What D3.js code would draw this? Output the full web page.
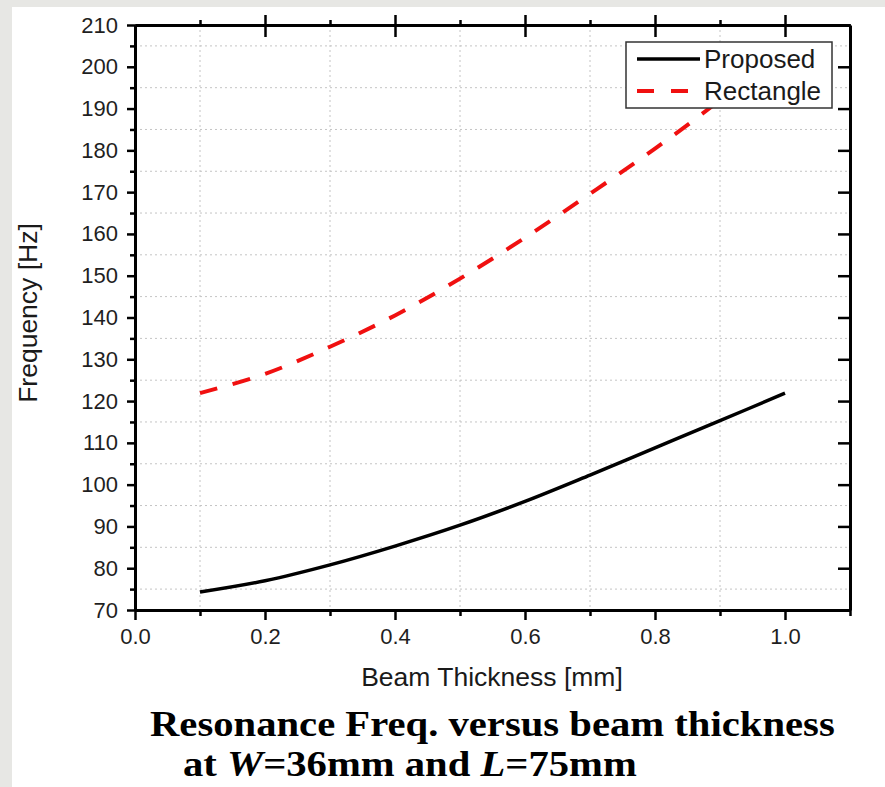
<!DOCTYPE html>
<html>
<head>
<meta charset="utf-8">
<script src="https://cdn.jsdelivr.net/npm/d3@7"></script>
<style>
  html, body { margin: 0; padding: 0; background: #e7e7e4; }
  svg { display: block; }
</style>
</head>
<body>
<div id="chart"></div>
<script>
// Data
var thickness = [0.1, 0.2, 0.3, 0.4, 0.5, 0.6, 0.7, 0.8, 0.9, 1.0];
var proposed = [74.3, 77.0, 80.8, 85.3, 90.3, 96.0, 102.3, 108.8, 115.3, 121.9];
var rectangle = [121.9, 126.5, 133.0, 140.5, 149.3, 159.1, 169.6, 180.4, 192.0, 204.5];
var seriesNames = ["Proposed", "Rectangle"];
var xMajor = [0, 0.2, 0.4, 0.6, 0.8, 1.0];
var xMinor = [0.1, 0.3, 0.5, 0.7, 0.9, 1.1];
var yMajor = [70, 80, 90, 100, 110, 120, 130, 140, 150, 160, 170, 180, 190, 200, 210];
var yMinor = [75, 85, 95, 105, 115, 125, 135, 145, 155, 165, 175, 185, 195, 205];

var width = 885, height = 787;
var plot = { left: 135, right: 850, top: 25, bottom: 610 };

var svg = d3.select("#chart").append("svg")
    .attr("width", width)
    .attr("height", height);

// page background, white sheet
svg.append("rect").attr("width", width).attr("height", height).attr("fill", "#e7e7e4");
svg.append("rect").attr("x", 12).attr("y", 7).attr("width", width - 12).attr("height", height - 7).attr("fill", "#fff");

var x = d3.scaleLinear().domain([0, 1.1]).range([plot.left, plot.right]);
var y = d3.scaleLinear().domain([70, 210]).range([plot.bottom, plot.top]);

// dotted grid on the minor positions
var grid = svg.append("g").attr("stroke", "#c4c4c4").attr("stroke-width", 1).attr("stroke-dasharray", "2,3");
grid.selectAll("line.v").data(xMinor.filter(d => d < 1.1)).enter().append("line")
    .attr("x1", d => x(d)).attr("x2", d => x(d))
    .attr("y1", plot.top).attr("y2", plot.bottom);
grid.selectAll("line.h").data(yMinor).enter().append("line")
    .attr("x1", plot.left).attr("x2", plot.right)
    .attr("y1", d => y(d)).attr("y2", d => y(d));

// lines
var line = d3.line().x(d => x(d[0])).y(d => y(d[1])).curve(d3.curveCatmullRom.alpha(0.5));

svg.append("path")
    .datum(thickness.map((t, i) => [t, rectangle[i]]))
    .attr("d", line)
    .attr("fill", "none")
    .attr("stroke", "#f01010")
    .attr("stroke-width", 4)
    .attr("stroke-dasharray", "18,16");

svg.append("path")
    .datum(thickness.map((t, i) => [t, proposed[i]]))
    .attr("d", line)
    .attr("fill", "none")
    .attr("stroke", "#000")
    .attr("stroke-width", 3.5);

// axes
function styleAxis(g) {
    g.select(".domain").attr("stroke", "#000").attr("stroke-width", 3);
    g.selectAll(".tick line").attr("stroke", "#000").attr("stroke-width", 2.5);
    g.selectAll(".tick text")
        .attr("fill", "#1f1f1f")
        .attr("font-family", "'Liberation Sans', Arial, sans-serif")
        .attr("font-size", "22px");
}

// bottom
svg.append("g")
    .attr("transform", `translate(0, ${plot.bottom})`)
    .call(d3.axisBottom(x).tickValues(xMinor).tickSize(6).tickSizeOuter(0).tickFormat(""))
    .call(styleAxis);
svg.append("g")
    .attr("transform", `translate(0, ${plot.bottom})`)
    .call(d3.axisBottom(x).tickValues(xMajor).tickSize(10).tickSizeOuter(0).tickPadding(8).tickFormat(d3.format(".1f")))
    .call(styleAxis);

// top
svg.append("g")
    .attr("transform", `translate(0, ${plot.top})`)
    .call(d3.axisTop(x).tickValues(xMinor.filter(d => d < 1.1)).tickSize(5).tickSizeOuter(0).tickFormat(""))
    .call(styleAxis);
svg.append("g")
    .attr("transform", `translate(0, ${plot.top})`)
    .call(d3.axisTop(x).tickValues(xMajor.filter(d => d > 0)).tickSize(10).tickSizeOuter(0).tickFormat(""))
    .call(styleAxis);
svg.append("g")
    .attr("transform", `translate(0, ${plot.top})`)
    .call(d3.axisBottom(x).tickValues(xMajor.filter(d => d > 0)).tickSize(12).tickSizeOuter(0).tickFormat(""))
    .call(styleAxis);

// left
svg.append("g")
    .attr("transform", `translate(${plot.left}, 0)`)
    .call(d3.axisLeft(y).tickValues(yMinor).tickSize(5).tickSizeOuter(0).tickFormat(""))
    .call(styleAxis);
svg.append("g")
    .attr("transform", `translate(${plot.left}, 0)`)
    .call(d3.axisLeft(y).tickValues(yMajor).tickSize(8).tickSizeOuter(0).tickPadding(9))
    .call(styleAxis);

// right
svg.append("g")
    .attr("transform", `translate(${plot.right}, 0)`)
    .call(d3.axisLeft(y).tickValues(yMajor.filter(d => d > 70 && d < 210)).tickSize(12).tickSizeOuter(0).tickFormat(""))
    .call(styleAxis);

// axis titles
svg.append("text")
    .attr("x", 492).attr("y", 686)
    .attr("text-anchor", "middle")
    .attr("font-family", "'Liberation Sans', Arial, sans-serif")
    .attr("font-size", "26.5px")
    .attr("fill", "#1a1a1a")
    .text("Beam Thickness [mm]");

svg.append("text")
    .attr("transform", "translate(37, 313) rotate(-90)")
    .attr("text-anchor", "middle")
    .attr("font-family", "'Liberation Sans', Arial, sans-serif")
    .attr("font-size", "26.5px")
    .attr("fill", "#1a1a1a")
    .text("Frequency [Hz]");

// legend
var legend = svg.append("g");
legend.append("rect")
    .attr("x", 626).attr("y", 42).attr("width", 206).attr("height", 66)
    .attr("fill", "#fff").attr("stroke", "#333").attr("stroke-width", 1.5);
var legendRows = legend.selectAll("g.row").data(seriesNames).enter().append("g")
    .attr("transform", (d, i) => `translate(0, ${59 + i * 32})`);
legendRows.append("line")
    .attr("x1", 637).attr("x2", 700)
    .attr("stroke", (d, i) => i === 0 ? "#000" : "#f01010")
    .attr("stroke-width", (d, i) => i === 0 ? 3.5 : 4)
    .attr("stroke-dasharray", (d, i) => i === 0 ? null : "17,17");
legendRows.append("text")
    .attr("x", 704).attr("dy", "0.35em")
    .attr("font-family", "'Liberation Sans', Arial, sans-serif")
    .attr("font-size", "26px")
    .attr("fill", "#1a1a1a")
    .text(d => d);

// caption under the chart
function fitText(t, x0, x1) {
    var w = t.node().getBBox().width;
    t.attr("transform", `translate(${x0}, 0) scale(${(x1 - x0) / w}, 1)`);
}

var cap1 = svg.append("text")
    .attr("y", 736)
    .attr("font-family", "'Liberation Serif', 'Times New Roman', serif")
    .attr("font-weight", "bold")
    .attr("font-size", "36px")
    .attr("fill", "#000")
    .text("Resonance Freq. versus beam thickness");
fitText(cap1, 150, 835);

var cap2 = svg.append("text")
    .attr("y", 776)
    .attr("font-family", "'Liberation Serif', 'Times New Roman', serif")
    .attr("font-weight", "bold")
    .attr("font-size", "36px")
    .attr("fill", "#000");
cap2.append("tspan").text("at ");
cap2.append("tspan").attr("font-style", "italic").text("W");
cap2.append("tspan").text("=36mm and ");
cap2.append("tspan").attr("font-style", "italic").text("L");
cap2.append("tspan").text("=75mm");
fitText(cap2, 183, 637);
</script>
</body>
</html>
